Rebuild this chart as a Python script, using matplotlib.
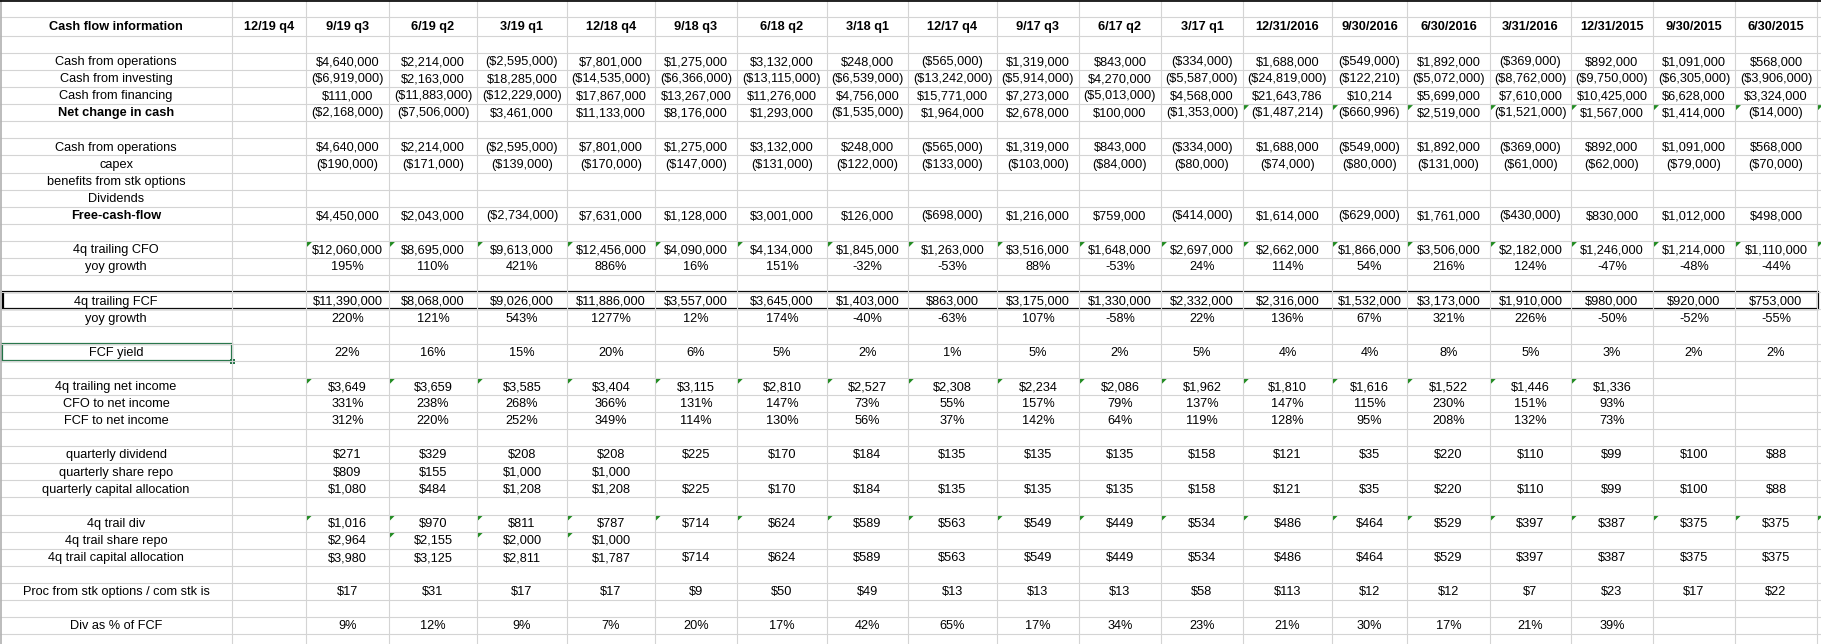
import matplotlib.pyplot as plt
from matplotlib.patches import Polygon, Rectangle

plt.rcParams['font.family'] = ['Liberation Sans', 'DejaVu Sans']

# column headers
periods = ["12/19 q4", "9/19 q3", "6/19 q2", "3/19 q1", "12/18 q4", "9/18 q3", "6/18 q2",
           "3/18 q1", "12/17 q4", "9/17 q3", "6/17 q2", "3/17 q1", "12/31/2016", "9/30/2016",
           "6/30/2016", "3/31/2016", "12/31/2015", "9/30/2015", "6/30/2015"]

# values from 9/19 q3 back to 6/30/2015 (12/19 q4 column is empty)
cfo = ["$4,640,000", "$2,214,000", "($2,595,000)", "$7,801,000", "$1,275,000", "$3,132,000",
       "$248,000", "($565,000)", "$1,319,000", "$843,000", "($334,000)", "$1,688,000",
       "($549,000)", "$1,892,000", "($369,000)", "$892,000", "$1,091,000", "$568,000"]
cfi = ["($6,919,000)", "$2,163,000", "$18,285,000", "($14,535,000)", "($6,366,000)",
       "($13,115,000)", "($6,539,000)", "($13,242,000)", "($5,914,000)", "$4,270,000",
       "($5,587,000)", "($24,819,000)", "($122,210)", "($5,072,000)", "($8,762,000)",
       "($9,750,000)", "($6,305,000)", "($3,906,000)"]
cff = ["$111,000", "($11,883,000)", "($12,229,000)", "$17,867,000", "$13,267,000",
       "$11,276,000", "$4,756,000", "$15,771,000", "$7,273,000", "($5,013,000)", "$4,568,000",
       "$21,643,786", "$10,214", "$5,699,000", "$7,610,000", "$10,425,000", "$6,628,000",
       "$3,324,000"]
net_change = ["($2,168,000)", "($7,506,000)", "$3,461,000", "$11,133,000", "$8,176,000",
              "$1,293,000", "($1,535,000)", "$1,964,000", "$2,678,000", "$100,000",
              "($1,353,000)", "($1,487,214)", "($660,996)", "$2,519,000", "($1,521,000)",
              "$1,567,000", "$1,414,000", "($14,000)"]
capex = ["($190,000)", "($171,000)", "($139,000)", "($170,000)", "($147,000)", "($131,000)",
         "($122,000)", "($133,000)", "($103,000)", "($84,000)", "($80,000)", "($74,000)",
         "($80,000)", "($131,000)", "($61,000)", "($62,000)", "($79,000)", "($70,000)"]
fcf = ["$4,450,000", "$2,043,000", "($2,734,000)", "$7,631,000", "$1,128,000", "$3,001,000",
       "$126,000", "($698,000)", "$1,216,000", "$759,000", "($414,000)", "$1,614,000",
       "($629,000)", "$1,761,000", "($430,000)", "$830,000", "$1,012,000", "$498,000"]
cfo_4q = ["$12,060,000", "$8,695,000", "$9,613,000", "$12,456,000", "$4,090,000",
          "$4,134,000", "$1,845,000", "$1,263,000", "$3,516,000", "$1,648,000", "$2,697,000",
          "$2,662,000", "$1,866,000", "$3,506,000", "$2,182,000", "$1,246,000", "$1,214,000",
          "$1,110,000"]
cfo_yoy = ["195%", "110%", "421%", "886%", "16%", "151%", "-32%", "-53%", "88%", "-53%",
           "24%", "114%", "54%", "216%", "124%", "-47%", "-48%", "-44%"]
fcf_4q = ["$11,390,000", "$8,068,000", "$9,026,000", "$11,886,000", "$3,557,000",
          "$3,645,000", "$1,403,000", "$863,000", "$3,175,000", "$1,330,000", "$2,332,000",
          "$2,316,000", "$1,532,000", "$3,173,000", "$1,910,000", "$980,000", "$920,000",
          "$753,000"]
fcf_yoy = ["220%", "121%", "543%", "1277%", "12%", "174%", "-40%", "-63%", "107%", "-58%",
           "22%", "136%", "67%", "321%", "226%", "-50%", "-52%", "-55%"]
fcf_yield = ["22%", "16%", "15%", "20%", "6%", "5%", "2%", "1%", "5%", "2%", "5%", "4%",
             "4%", "8%", "5%", "3%", "2%", "2%"]
ni_4q = ["$3,649", "$3,659", "$3,585", "$3,404", "$3,115", "$2,810", "$2,527", "$2,308",
         "$2,234", "$2,086", "$1,962", "$1,810", "$1,616", "$1,522", "$1,446", "$1,336", "", ""]
cfo_to_ni = ["331%", "238%", "268%", "366%", "131%", "147%", "73%", "55%", "157%", "79%",
             "137%", "147%", "115%", "230%", "151%", "93%", "", ""]
fcf_to_ni = ["312%", "220%", "252%", "349%", "114%", "130%", "56%", "37%", "142%", "64%",
             "119%", "128%", "95%", "208%", "132%", "73%", "", ""]
q_div = ["$271", "$329", "$208", "$208", "$225", "$170", "$184", "$135", "$135", "$135",
         "$158", "$121", "$35", "$220", "$110", "$99", "$100", "$88"]
q_repo = ["$809", "$155", "$1,000", "$1,000"] + [""] * 14
q_alloc = ["$1,080", "$484", "$1,208", "$1,208", "$225", "$170", "$184", "$135", "$135",
           "$135", "$158", "$121", "$35", "$220", "$110", "$99", "$100", "$88"]
div_4q = ["$1,016", "$970", "$811", "$787", "$714", "$624", "$589", "$563", "$549", "$449",
          "$534", "$486", "$464", "$529", "$397", "$387", "$375", "$375"]
repo_4q = ["$2,964", "$2,155", "$2,000", "$1,000"] + [""] * 14
alloc_4q = ["$3,980", "$3,125", "$2,811", "$1,787", "$714", "$624", "$589", "$563", "$549",
            "$449", "$534", "$486", "$464", "$529", "$397", "$387", "$375", "$375"]
stk_proc = ["$17", "$31", "$17", "$17", "$9", "$50", "$49", "$13", "$13", "$13", "$58",
            "$113", "$12", "$12", "$7", "$23", "$17", "$22"]
div_pct_fcf = ["9%", "12%", "9%", "7%", "20%", "17%", "42%", "65%", "17%", "34%", "23%",
               "21%", "30%", "17%", "21%", "39%", "", ""]

# sheet rows: (label, values, bold)
rows = [
    None,
    ("Cash flow information", None, True),
    None,
    ("Cash from operations", cfo, False),
    ("Cash from investing", cfi, False),
    ("Cash from financing", cff, False),
    ("Net change in cash", net_change, True),
    None,
    ("Cash from operations", cfo, False),
    ("capex", capex, False),
    ("benefits from stk options", None, False),
    ("Dividends", None, False),
    ("Free-cash-flow", fcf, True),
    None,
    ("4q trailing CFO", cfo_4q, False),
    ("yoy growth", cfo_yoy, False),
    None,
    ("4q trailing FCF", fcf_4q, False),
    ("yoy growth", fcf_yoy, False),
    None,
    ("FCF yield", fcf_yield, False),
    None,
    ("4q trailing net income", ni_4q, False),
    ("CFO to net income", cfo_to_ni, False),
    ("FCF to net income", fcf_to_ni, False),
    None,
    ("quarterly dividend", q_div, False),
    ("quarterly share repo", q_repo, False),
    ("quarterly capital allocation", q_alloc, False),
    None,
    ("4q trail div", div_4q, False),
    ("4q trail share repo", repo_4q, False),
    ("4q trail capital allocation", alloc_4q, False),
    None,
    ("Proc from stk options / com stk is", stk_proc, False),
    None,
    ("Div as % of FCF", div_pct_fcf, False),
    None,
]

# layout in pixels
W, H = 1821, 644
col_edges = [0, 232, 306, 389, 477, 567, 655, 737, 827, 908, 997, 1079, 1161, 1243,
             1332, 1407, 1490, 1571, 1653, 1735, 1817]
row_edges = [0, 17.3, 35.7] + [35.7 + 17.1 * k for k in range(1, len(rows))]

fig = plt.figure(figsize=(W / 100, H / 100), dpi=100)
ax = fig.add_axes([0, 0, 1, 1])
ax.set_xlim(0, W)
ax.set_ylim(H, 0)
ax.axis('off')

grid = '#d4d4d4'
ax.hlines(row_edges, 0, W, colors=grid, lw=0.8)
ax.vlines(col_edges[1:], 0, H, colors=grid, lw=0.8)
ax.vlines(1, 0, H, colors='#b0b0b0', lw=1.2)
ax.hlines(0.5, 0, W, colors='black', lw=1.2)

fs = 9.2
col_mid = [(col_edges[i] + col_edges[i + 1]) / 2 for i in range(len(col_edges) - 1)]

for r, row in enumerate(rows):
    if row is None:
        continue
    label, vals, bold = row
    yc = (row_edges[r] + row_edges[r + 1]) / 2 + 0.8
    ax.text(col_mid[0], yc, label, ha='center', va='center', fontsize=fs,
            fontweight='bold' if bold else 'normal')
    if r == 1:
        for c, p in enumerate(periods):
            ax.text(col_mid[c + 1], yc, p, ha='center', va='center', fontsize=fs,
                    fontweight='bold')
    elif vals is not None:
        for c, v in enumerate(vals):
            if v:
                ax.text(col_mid[c + 2], yc, v, ha='center', va='center', fontsize=fs)

# green error-indicator triangles: (row index, first column index, last column index)
flags = [(6, 13, 20), (14, 2, 20), (22, 2, 17), (30, 2, 20), (31, 3, 5)]
for r, c0, c1 in flags:
    for c in range(c0, c1 + 1):
        x0 = col_edges[c] + 1 if c < len(col_edges) else 1818
        y0 = row_edges[r] + 1
        ax.add_patch(Polygon([(x0, y0), (x0 + 5, y0), (x0, y0 + 5)],
                             closed=True, color='#1f8a1f', lw=0))

# black box around 4q trailing FCF row
r = 17
ax.add_patch(Rectangle((2.5, row_edges[r]), 1815, row_edges[r + 1] - row_edges[r],
                       fill=False, ec='black', lw=1.6))

# active cell on FCF yield label
r = 20
ax.add_patch(Rectangle((2, row_edges[r]), 230, row_edges[r + 1] - row_edges[r],
                       fill=False, ec='#217346', lw=1.6))
ax.add_patch(Rectangle((230, row_edges[r + 1] - 2), 5, 5, color='#217346', lw=0))

fig.savefig('out.png', dpi=100)
